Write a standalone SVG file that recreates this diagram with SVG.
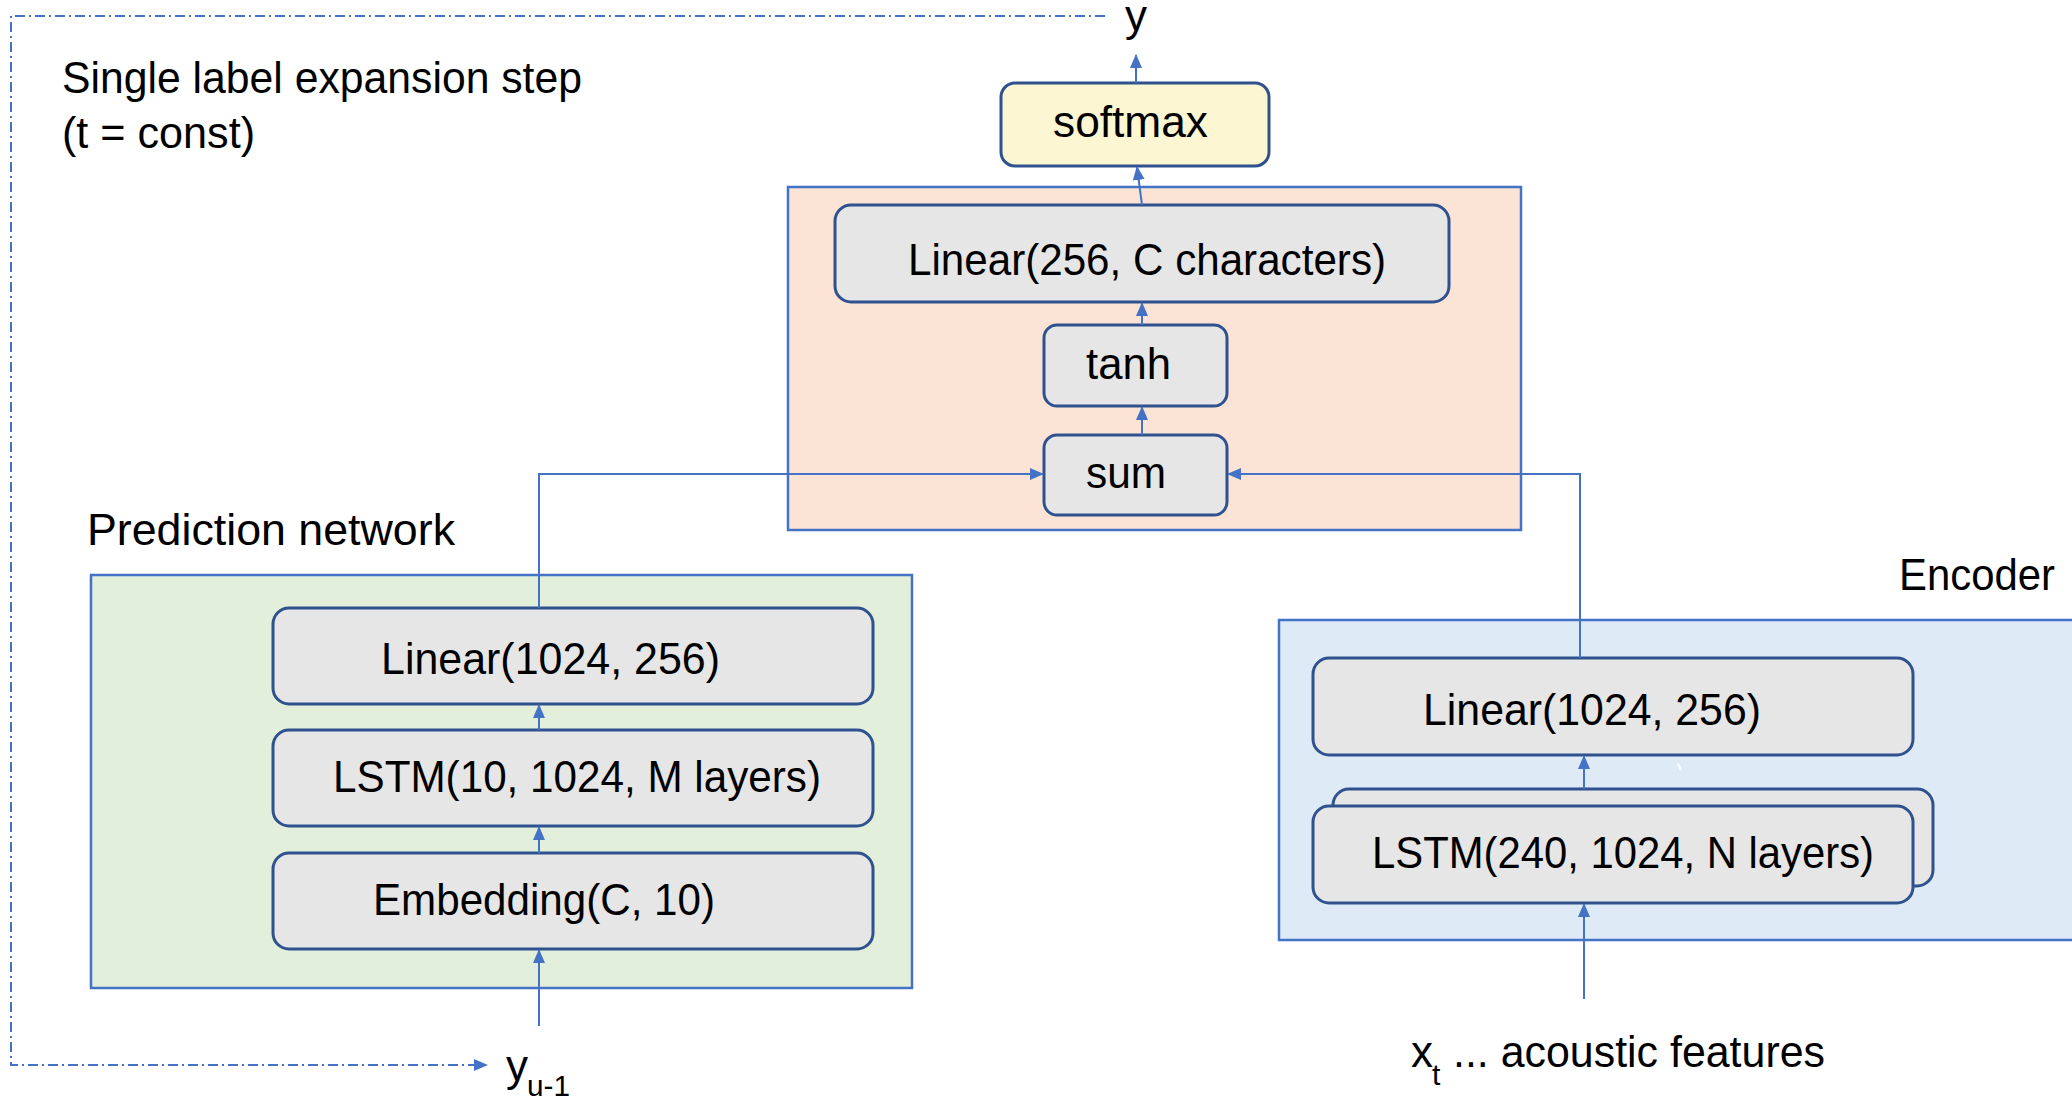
<svg xmlns="http://www.w3.org/2000/svg" width="2072" height="1099" viewBox="0 0 2072 1099">
  <defs>
    <marker id="arrow" markerUnits="userSpaceOnUse" markerWidth="14" markerHeight="12" refX="13" refY="6" orient="auto">
      <path d="M0,0 L14,6 L0,12 Z" fill="#4472C4"/>
    </marker>
    <style>
      text { font-family: "Liberation Sans", Arial, sans-serif; fill: #000; }
      .lbl { font-size: 44px; }
      .sub { font-size: 30px; }
      .layer { fill: #E6E6E6; stroke: #2F528F; stroke-width: 3; }
      .soft { fill: #FCF6D3; stroke: #2F528F; stroke-width: 3; }
      .group { stroke: #4472C4; stroke-width: 2.5; }
      .conn { fill: none; stroke: #4472C4; stroke-width: 2; }
      .loop { fill: none; stroke: #4472C4; stroke-width: 2; stroke-dasharray: 10 4 2 4; }
    </style>
  </defs>

  <!-- title -->
  <g id="title">
    <text class="lbl" x="62" y="93" textLength="520" lengthAdjust="spacingAndGlyphs">Single label expansion step</text>
    <text class="lbl" x="62" y="148" textLength="193" lengthAdjust="spacingAndGlyphs">(t = const)</text>
  </g>

  <!-- joint network container -->
  <g id="joint">
    <rect class="group" x="788" y="187" width="733" height="343" fill="#FBE4D5"/>
  </g>

  <!-- prediction network container -->
  <g id="prediction">
    <rect class="group" x="91" y="575" width="821" height="413" fill="#E2EFDA"/>
    <text class="lbl" x="87" y="545" textLength="368" lengthAdjust="spacingAndGlyphs">Prediction network</text>
  </g>

  <!-- encoder container -->
  <g id="encoder">
    <rect class="group" x="1279" y="620" width="820" height="320" fill="#DEEBF7"/>
    <text class="lbl" x="1899" y="590" textLength="156" lengthAdjust="spacingAndGlyphs">Encoder</text>
  </g>

  <g id="softmax">
    <rect class="soft" x="1001" y="83" width="268" height="83" rx="14"/>
    <text class="lbl" x="1053" y="137" textLength="155" lengthAdjust="spacingAndGlyphs">softmax</text>
  </g>

  <g id="joint-linear">
    <rect class="layer" x="835" y="205" width="614" height="97" rx="16"/>
    <text class="lbl" x="908" y="275" textLength="478" lengthAdjust="spacingAndGlyphs">Linear(256, C characters)</text>
  </g>

  <g id="tanh">
    <rect class="layer" x="1044" y="325" width="183" height="81" rx="13"/>
    <text class="lbl" x="1086" y="379" textLength="85" lengthAdjust="spacingAndGlyphs">tanh</text>
  </g>

  <g id="sum">
    <rect class="layer" x="1044" y="435" width="183" height="80" rx="13"/>
    <text class="lbl" x="1086" y="488" textLength="80" lengthAdjust="spacingAndGlyphs">sum</text>
  </g>

  <g id="pred-linear">
    <rect class="layer" x="273" y="608" width="600" height="96" rx="16"/>
    <text class="lbl" x="381" y="674" textLength="339" lengthAdjust="spacingAndGlyphs">Linear(1024, 256)</text>
  </g>

  <g id="pred-lstm">
    <rect class="layer" x="273" y="730" width="600" height="96" rx="16"/>
    <text class="lbl" x="333" y="792" textLength="488" lengthAdjust="spacingAndGlyphs">LSTM(10, 1024, M layers)</text>
  </g>

  <g id="pred-embedding">
    <rect class="layer" x="273" y="853" width="600" height="96" rx="16"/>
    <text class="lbl" x="373" y="915" textLength="342" lengthAdjust="spacingAndGlyphs">Embedding(C, 10)</text>
  </g>

  <g id="enc-linear">
    <rect class="layer" x="1313" y="658" width="600" height="97" rx="16"/>
    <text class="lbl" x="1423" y="725" textLength="338" lengthAdjust="spacingAndGlyphs">Linear(1024, 256)</text>
  </g>

  <g id="enc-lstm">
    <rect class="layer" x="1333" y="789" width="600" height="97" rx="16"/>
    <rect class="layer" x="1313" y="806" width="600" height="97" rx="16"/>
    <text class="lbl" x="1372" y="868" textLength="502" lengthAdjust="spacingAndGlyphs">LSTM(240, 1024, N layers)</text>
  </g>

  <!-- input / output labels -->
  <g id="output-label">
    <text class="lbl" x="1125" y="31">y</text>
  </g>
  <g id="prev-label">
    <text class="lbl" x="506" y="1081">y</text>
    <text class="sub" x="527" y="1096" textLength="43" lengthAdjust="spacingAndGlyphs">u-1</text>
  </g>
  <g id="features-label">
    <text class="lbl" x="1411" y="1067">x</text>
    <text class="sub" x="1432" y="1085">t</text>
    <text class="lbl" x="1453" y="1067" textLength="372" lengthAdjust="spacingAndGlyphs">... acoustic features</text>
  </g>

  <!-- connectors -->
  <g id="connectors">
    <line class="conn" x1="1136" y1="83" x2="1136" y2="55" marker-end="url(#arrow)"/>
    <line class="conn" x1="1142" y1="205" x2="1137" y2="167" marker-end="url(#arrow)"/>
    <line class="conn" x1="1142" y1="325" x2="1142" y2="303" marker-end="url(#arrow)"/>
    <line class="conn" x1="1142" y1="435" x2="1142" y2="407" marker-end="url(#arrow)"/>
    <polyline class="conn" points="539,608 539,474 1043,474" marker-end="url(#arrow)"/>
    <polyline class="conn" points="1580,658 1580,474 1228,474" marker-end="url(#arrow)"/>
    <line class="conn" x1="539" y1="730" x2="539" y2="705" marker-end="url(#arrow)"/>
    <line class="conn" x1="539" y1="853" x2="539" y2="827" marker-end="url(#arrow)"/>
    <line class="conn" x1="539" y1="1026" x2="539" y2="950" marker-end="url(#arrow)"/>
    <line class="conn" x1="1584" y1="789" x2="1584" y2="756" marker-end="url(#arrow)"/>
    <line class="conn" x1="1584" y1="999" x2="1584" y2="904" marker-end="url(#arrow)"/>
    <!-- feedback loop: previous output back to prediction network input -->
    <polyline class="loop" points="1105,16 11,16 11,1065 487,1065" marker-end="url(#arrow)"/>
  </g>

  <!-- small white mark between encoder layers -->
  <line x1="1678" y1="764" x2="1681" y2="770" stroke="#FFFFFF" stroke-width="2"/>
</svg>
